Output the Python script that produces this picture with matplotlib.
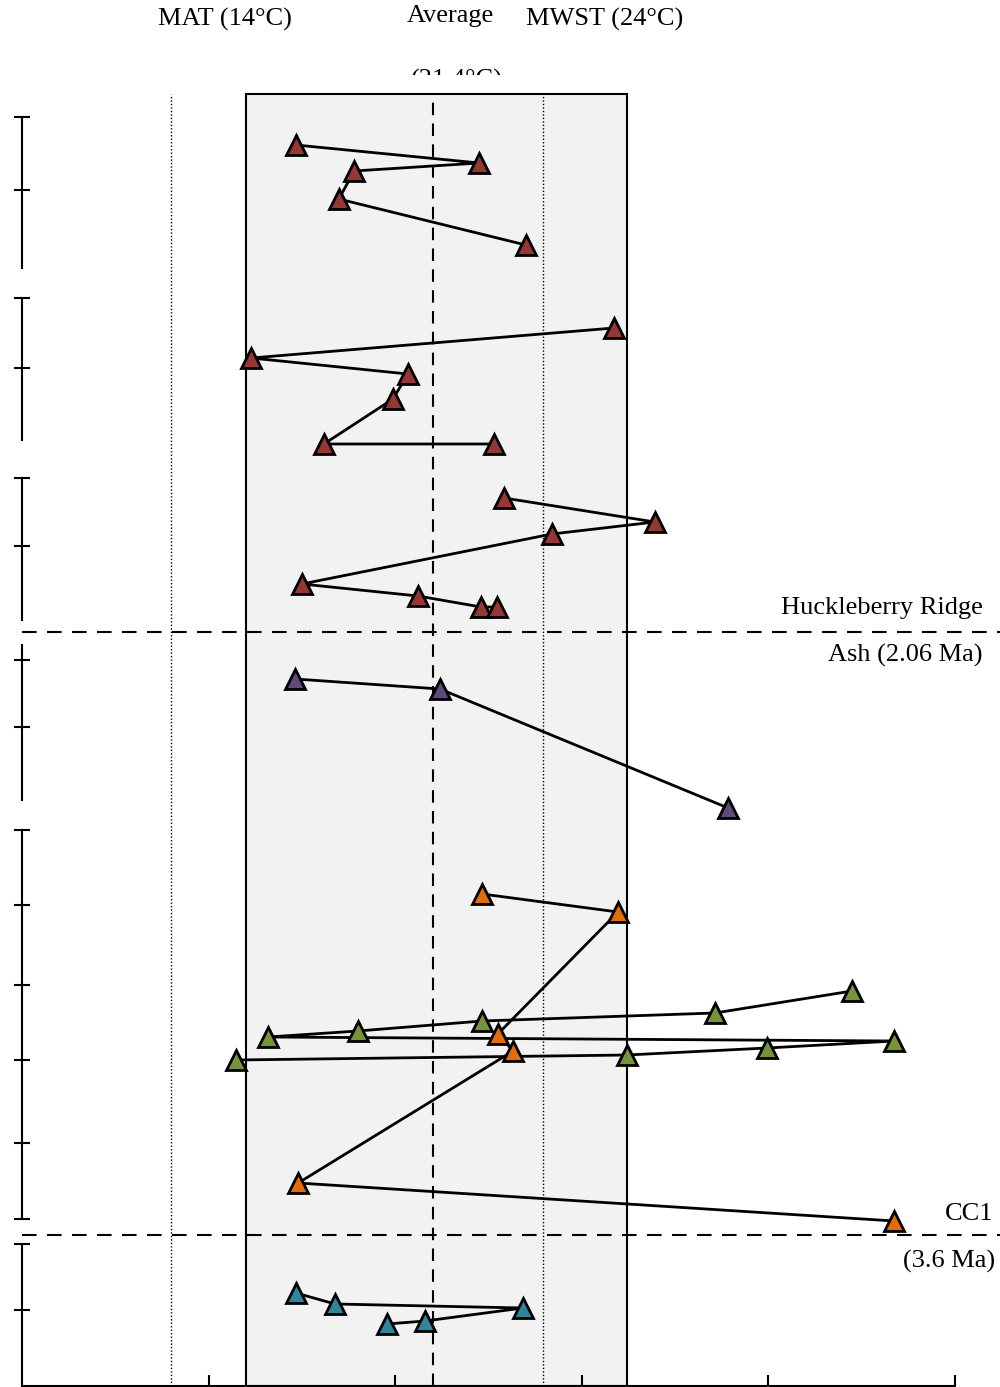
import numpy as np
import matplotlib
matplotlib.use('Agg')
import matplotlib.pyplot as plt
from matplotlib.transforms import Bbox

plt.rcParams['font.family'] = ['Liberation Serif', 'DejaVu Serif']

# temperature (degC) and stratigraphic height for each section
red_a_t = [17.34, 22.25, 18.90, 18.49, 23.50]
red_a_h = [124.1, 122.3, 121.5, 118.7, 114.1]
red_b_t = [25.86, 16.14, 20.34, 19.94, 18.09, 22.65]
red_b_h = [105.8, 102.8, 101.2, 98.7, 94.2, 94.2]
red_c_t = [22.92, 26.96, 24.20, 17.50, 20.61, 22.30, 22.73]
red_c_h = [88.8, 86.4, 85.2, 80.2, 79.0, 77.9, 77.9]
purple_t = [17.32, 21.20, 28.92]
purple_h = [70.7, 69.7, 57.8]
green_t = [32.24, 28.57, 22.33, 19.00, 16.59, 33.37, 29.96, 26.21, 15.73]
green_h = [39.5, 37.3, 36.5, 35.5, 34.9, 34.5, 33.8, 33.1, 32.6]
orange_t = [22.33, 25.97, 22.75, 23.16, 17.40, 33.37]
orange_h = [49.2, 47.4, 35.2, 33.5, 20.3, 16.5]
teal_t = [17.34, 18.39, 23.42, 20.80, 19.78]
teal_h = [9.3, 8.2, 7.8, 6.5, 6.2]

mat = 14.0
mwst = 23.95
avg = 21.0
band = (16.0, 26.2)
huckleberry_h = 75.4
cc1_h = 15.1

# broken height axis: (bottom, top, tick heights)
sections = [
    (111.8, 126.9, [126.9, 119.6]),
    (94.6, 108.8, [108.8, 101.8]),
    (76.6, 90.8, [90.8, 84.0]),
    (58.6, 74.1, [72.6, 65.9]),
    (16.7, 55.6, [55.6, 48.1, 40.1, 32.6, 24.3, 16.7]),
    (0.0, 14.2, [14.2, 7.6]),
]

W, H = 1000, 1387
fig = plt.figure(figsize=(W / 100, H / 100), dpi=100)
ax = fig.add_axes([22 / W, 1 / H, 978 / W, 1292 / H])
ax.set_xlim(10, 10 + 978 / 37.32)
ax.set_ylim(0, 129.2)

ax.axvspan(band[0], band[1], facecolor='#f2f2f2', edgecolor='black', lw=1.5, zorder=0, clip_on=False)
ax.axvline(mat, color='black', lw=1, ls=(0, (1, 1.5)), zorder=1)
ax.axvline(mwst, color='black', lw=1, ls=(0, (1, 1.5)), zorder=1)
ax.axvline(avg, color='black', lw=1.5, ls=(0, (6, 4)), zorder=1)
for hb in (huckleberry_h, cc1_h):
    ax.axhline(hb, color='black', lw=1.5, ls=(0, (7, 5)), zorder=1)

series = [
    (red_a_t, red_a_h, '#953735'),
    (red_b_t, red_b_h, '#953735'),
    (red_c_t, red_c_h, '#953735'),
    (purple_t, purple_h, '#604a7b'),
    (green_t, green_h, '#77933c'),
    (orange_t, orange_h, '#e46c0a'),
    (teal_t, teal_h, '#31859c'),
]
for t, h, c in series:
    ax.plot(t, h, color='black', lw=2, marker='^', ms=15,
            mfc=c, mec='black', mew=2, zorder=3)

# left axis drawn in pieces
for lo, hi, ticks in sections:
    ax.plot([10, 10], [lo, hi], color='black', lw=1.5, clip_on=False, zorder=2)
    ax.plot(np.full(len(ticks), 10.0), ticks, ls='none', marker='_', ms=11,
            mew=1.5, color='black', clip_on=False, zorder=2)

for s in ('left', 'top', 'right'):
    ax.spines[s].set_visible(False)
ax.spines['bottom'].set_bounds(10, 35)
ax.spines['bottom'].set_linewidth(1.5)
ax.set_xticks([15, 20, 25, 30, 35])
ax.set_xticklabels([])
ax.set_yticks([])
ax.tick_params(axis='x', direction='in', length=8, width=1.5)


def fx(x):
    return x / W


def fy(y):
    return 1 - y / H


fs = 19
fig.text(fx(225), fy(19), 'MAT (14°C)', fontsize=fs, ha='center', va='center')
fig.text(fx(450), fy(16), 'Average', fontsize=fs, ha='center', va='center')
fig.text(fx(605), fy(19), 'MWST (24°C)', fontsize=fs, ha='center', va='center')
t = fig.text(fx(457), fy(80), '(21.4°C)', fontsize=fs, ha='center', va='center')
t.set_clip_box(Bbox([[0, H - 75], [W, H]]))
t.set_clip_on(True)

fig.text(fx(983), fy(608), 'Huckleberry Ridge', fontsize=fs, ha='right', va='center')
fig.text(fx(983), fy(655), 'Ash (2.06 Ma)', fontsize=fs, ha='right', va='center')
fig.text(fx(993), fy(1214), 'CC1', fontsize=fs, ha='right', va='center')
fig.text(fx(995), fy(1261), '(3.6 Ma)', fontsize=fs, ha='right', va='center')

fig.savefig('out.png', dpi=100)
